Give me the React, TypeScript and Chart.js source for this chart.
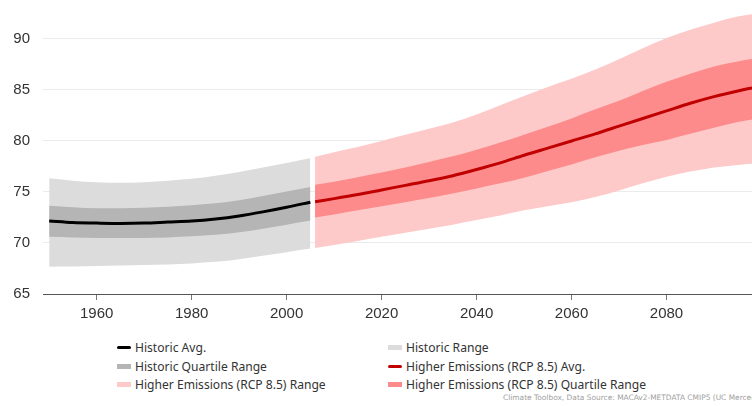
import React, { useEffect, useRef } from "react";
import { Chart, registerables } from "chart.js";

Chart.register(...registerables);

const HIST_YEARS = [1950, 1955, 1960, 1965, 1970, 1975, 1980, 1985, 1990, 1995, 2000, 2005];
const HIST_AVG = [72.16, 72.0, 71.95, 71.92, 71.95, 72.05, 72.15, 72.35, 72.65, 73.05, 73.5, 74.0];
const HIST_Q_LO = [70.62, 70.55, 70.5, 70.48, 70.5, 70.55, 70.65, 70.8, 71.05, 71.4, 71.8, 72.2];
const HIST_Q_HI = [73.66, 73.5, 73.4, 73.4, 73.45, 73.55, 73.7, 73.9, 74.2, 74.6, 75.05, 75.5];
const HIST_R_LO = [67.68, 67.7, 67.75, 67.8, 67.85, 67.9, 68.0, 68.15, 68.4, 68.75, 69.1, 69.45];
const HIST_R_HI = [76.34, 76.1, 75.95, 75.9, 75.95, 76.1, 76.3, 76.6, 76.95, 77.4, 77.85, 78.3];

const FUT_YEARS = [2006, 2010, 2015, 2020, 2025, 2030, 2035, 2040, 2045, 2050, 2055, 2060, 2065, 2070, 2075, 2080, 2085, 2090, 2095, 2099];
const FUT_AVG = [74.05, 74.35, 74.75, 75.2, 75.65, 76.1, 76.6, 77.2, 77.85, 78.6, 79.3, 80.0, 80.7, 81.45, 82.2, 82.95, 83.7, 84.35, 84.9, 85.3];
const FUT_Q_LO = [72.5, 72.8, 73.2, 73.6, 74.0, 74.4, 74.85, 75.35, 75.85, 76.4, 77.05, 77.7, 78.4, 79.05, 79.6, 80.1, 80.7, 81.3, 81.85, 82.2];
const FUT_Q_HI = [75.7, 76.0, 76.45, 76.9, 77.4, 77.95, 78.5, 79.15, 79.85, 80.6, 81.4, 82.2, 83.1, 83.95, 84.9, 85.8, 86.6, 87.3, 87.8, 88.1];
const FUT_R_LO = [69.5, 69.8, 70.2, 70.6, 71.0, 71.4, 71.8, 72.25, 72.7, 73.2, 73.6, 74.0, 74.5, 75.15, 75.85, 76.5, 77.0, 77.4, 77.65, 77.8];
const FUT_R_HI = [78.45, 78.9, 79.4, 80.0, 80.6, 81.2, 81.8, 82.6, 83.5, 84.4, 85.3, 86.1, 87.0, 88.0, 89.1, 90.1, 90.9, 91.6, 92.2, 92.5];

const X_TICKS = [1960, 1980, 2000, 2020, 2040, 2060, 2080];
const Y_TICKS = [65, 70, 75, 80, 85, 90];

const LEGEND_ITEMS = [
  { label: "Historic Avg.", color: "#000000", kind: "line" },
  { label: "Historic Range", color: "#dcdcdc", kind: "box" },
  { label: "Historic Quartile Range", color: "#b5b5b5", kind: "box" },
  { label: "Higher Emissions (RCP 8.5) Avg.", color: "#c00000", kind: "line" },
  { label: "Higher Emissions (RCP 8.5) Range", color: "#fdc9c9", kind: "box" },
  { label: "Higher Emissions (RCP 8.5) Quartile Range", color: "#fd8b8b", kind: "box" },
];

const CREDITS = "Climate Toolbox, Data Source: MACAv2-METDATA CMIP5 (UC Merced)";

const pts = (xs: number[], ys: number[]) => xs.map((x, i) => ({ x, y: ys[i] }));

const band = (data: any, extra: any) => ({
  data,
  borderWidth: 0,
  pointRadius: 0,
  tension: 0.4,
  cubicInterpolationMode: "monotone",
  ...extra,
});

export default function App() {
  const ref = useRef<HTMLCanvasElement | null>(null);

  useEffect(() => {
    if (!ref.current) return;
    const chart = new Chart(ref.current, {
      type: "line",
      data: {
        datasets: [
          band(pts(HIST_YEARS, HIST_R_HI), { fill: false, order: 3 }),
          band(pts(HIST_YEARS, HIST_R_LO), { fill: 0, backgroundColor: "#dcdcdc", order: 3 }),
          band(pts(HIST_YEARS, HIST_Q_HI), { fill: false, order: 2 }),
          band(pts(HIST_YEARS, HIST_Q_LO), { fill: 2, backgroundColor: "#b5b5b5", order: 2 }),
          band(pts(HIST_YEARS, HIST_AVG), { fill: false, borderWidth: 3, borderColor: "#000000", order: 1 }),
          band(pts(FUT_YEARS, FUT_R_HI), { fill: false, order: 3 }),
          band(pts(FUT_YEARS, FUT_R_LO), { fill: 5, backgroundColor: "#fdc9c9", order: 3 }),
          band(pts(FUT_YEARS, FUT_Q_HI), { fill: false, order: 2 }),
          band(pts(FUT_YEARS, FUT_Q_LO), { fill: 7, backgroundColor: "#fd8b8b", order: 2 }),
          band(pts(FUT_YEARS, FUT_AVG), { fill: false, borderWidth: 3, borderColor: "#c00000", order: 1 }),
        ],
      },
      options: {
        animation: false,
        responsive: false,
        maintainAspectRatio: false,
        layout: { padding: 0 },
        plugins: { legend: { display: false }, tooltip: { enabled: false } },
        scales: {
          x: {
            type: "linear",
            min: 1948.7,
            max: 2098,
            afterBuildTicks: (s: any) => {
              s.ticks = X_TICKS.map((v) => ({ value: v }));
            },
            afterFit: (s: any) => {
              s.height = 36;
              s.paddingLeft = 0;
              s.paddingRight = 0;
            },
            grid: { drawOnChartArea: false, drawTicks: true, tickLength: 6, color: "#777777" },
            border: { display: true, color: "#555555", width: 1 },
            ticks: {
              color: "#333333",
              padding: 5,
              maxRotation: 0,
              font: { family: "'Liberation Sans', Arial, sans-serif", size: 15 },
              callback: (v: any) => String(v),
            },
          },
          y: {
            min: 65,
            max: 93.82,
            afterBuildTicks: (s: any) => {
              s.ticks = Y_TICKS.map((v) => ({ value: v }));
            },
            afterFit: (s: any) => {
              s.width = 43;
              s.paddingTop = 0;
              s.paddingBottom = 0;
            },
            grid: { color: "#ebebeb", drawTicks: false },
            border: { display: false },
            ticks: {
              color: "#333333",
              padding: 13,
              font: { family: "'Liberation Sans', Arial, sans-serif", size: 15 },
            },
          },
        },
      },
    } as any);
    return () => chart.destroy();
  }, []);

  const rowY = [347, 366, 384.5];
  const colX = [117, 388];

  return (
    <div style={{ position: "fixed", left: 0, top: 0, width: 752, height: 406, overflow: "hidden", background: "#fff" }}>
      <canvas ref={ref} width={752} height={330} style={{ position: "absolute", left: 0, top: 0, width: 752, height: 330 }} />
      {LEGEND_ITEMS.map((it, i) => {
        const col = i % 2;
        const row = Math.floor(i / 2);
        const h = it.kind === "line" ? 3 : 5;
        return (
          <div
            key={it.label}
            style={{
              position: "absolute",
              left: colX[col],
              top: rowY[row] - 9,
              height: 18,
              display: "flex",
              alignItems: "center",
              whiteSpace: "nowrap",
              fontFamily: "'Noto Sans', 'DejaVu Sans', sans-serif",
              fontSize: 12.1,
              color: "#333",
            }}
          >
            <span style={{ display: "inline-block", width: 14, height: h, background: it.color, borderRadius: it.kind === "line" ? 2 : 0, marginRight: 4 }} />
            <span>{it.label}</span>
          </div>
        );
      })}
      <div
        style={{
          position: "absolute",
          left: 503,
          top: 393,
          whiteSpace: "nowrap",
          fontFamily: "'DejaVu Sans', Verdana, sans-serif",
          fontSize: 7.45,
          color: "#a0a0a0",
        }}
      >
        {CREDITS}
      </div>
    </div>
  );
}
